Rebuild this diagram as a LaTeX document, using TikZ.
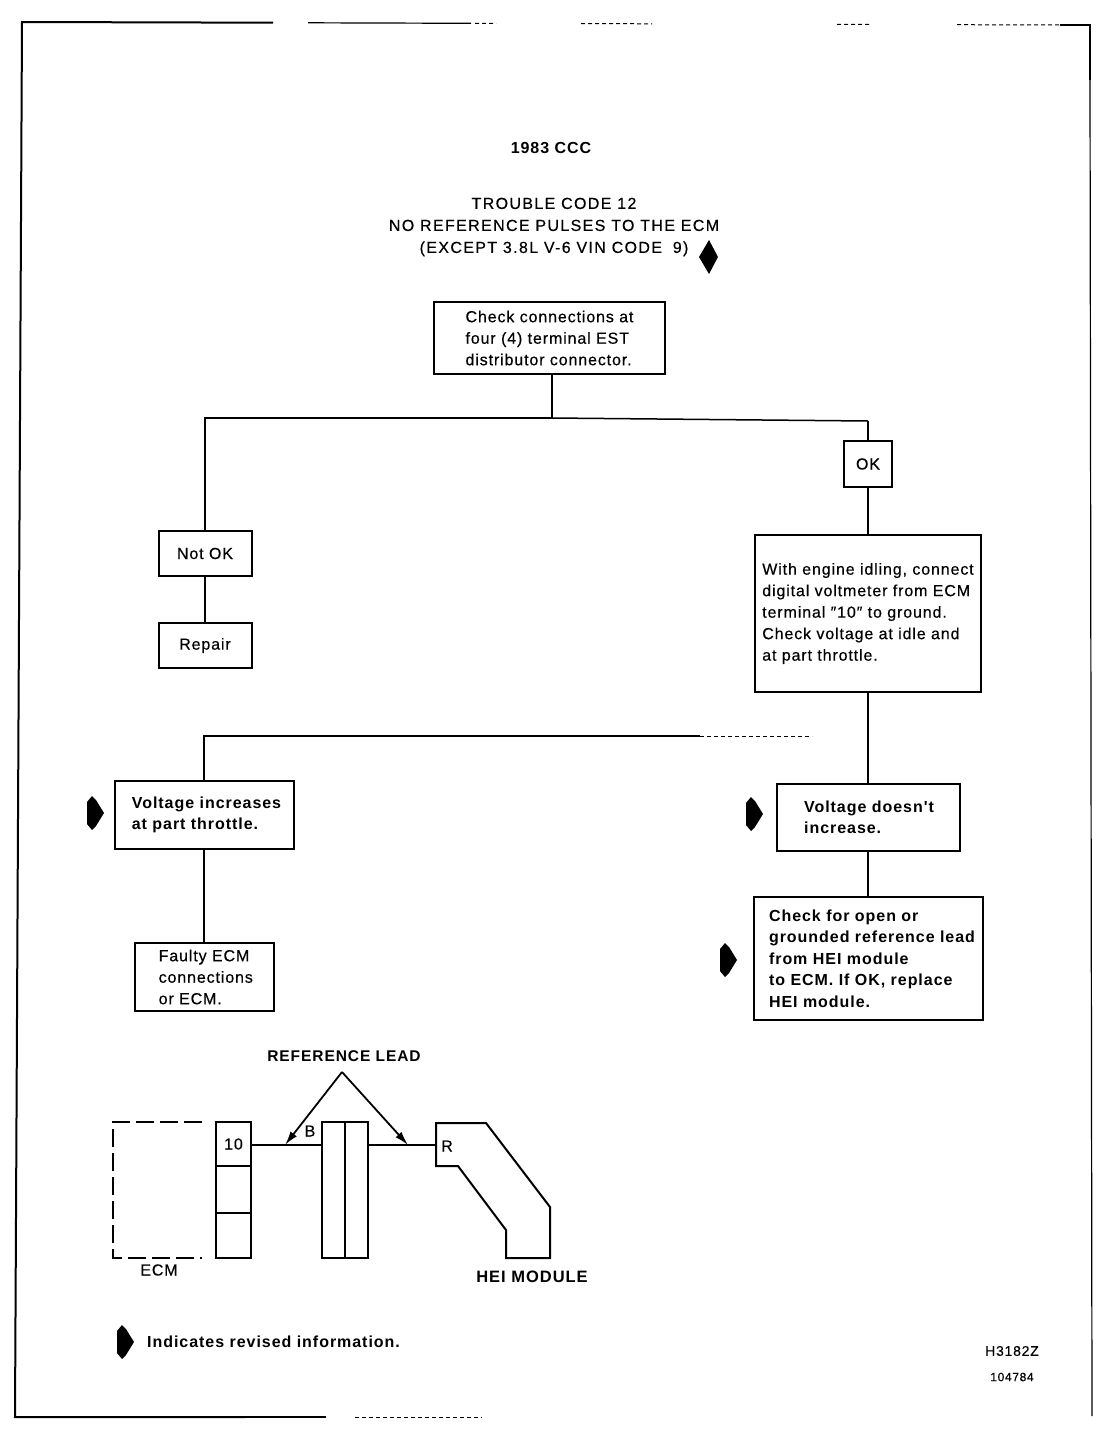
\documentclass[tikz,border=0pt]{standalone}
\usepackage{fontspec}
\setmainfont{Liberation Sans}[LetterSpace=5.5,FakeBold=0.4]
\newfontfamily\boldface{Liberation Sans Bold}[LetterSpace=6.0]
\newfontfamily\titleface{Liberation Sans}[LetterSpace=8.5,FakeBold=0.4]
\usetikzlibrary{arrows.meta, positioning}

\begin{document}
\begin{tikzpicture}[x=1pt,y=-1pt]
 \tikzstyle{flowbox}=[rectangle,draw=black,line width=2pt,outer sep=0pt,
   inner sep=0pt,align=left,font=\fontsize{16}{21.5}\selectfont]
 \tikzstyle{revisedbox}=[flowbox,font=\fontsize{16}{21.5}\selectfont\boldface]
 \tikzstyle{wire}=[line width=2.2pt]
 \tikzstyle{part}=[draw=black,line width=2pt,outer sep=0pt,inner sep=0pt]
 \tikzstyle{plainlabel}=[inner sep=0pt,font=\fontsize{16}{21.5}\selectfont,align=center]
 \tikzstyle{boldlabel}=[inner sep=0pt,font=\fontsize{16}{21.5}\selectfont\boldface]
 \tikzstyle{pointer}=[-{Latex[length=14pt,width=8pt]},line width=1.8pt]
 \tikzstyle{faded}=[line width=1pt,dash pattern=on 4pt off 3pt]
 \tikzset{revmark/.pic={\fill[black] (0,-11) -- (5,-17) -- (9,-13) -- (17,0) -- (9,13) -- (5,17) -- (0,11) -- cycle;}}
 \useasboundingbox (0,0) rectangle (1104,1440);

 % page frame
 \draw[line width=2pt] (273,22.7) -- (22,22) -- (15,1417) -- (245,1417);
 \draw[line width=1.2pt] (245,1417) -- (326,1417);
 \draw[line width=1.2pt] (308,22.8) -- (471,23.3);
 \draw[faded] (355,1417.5) -- (482,1417.5);
 \draw[faded] (475,23.3) -- (496,23.4);
 \draw[faded] (581,23.6) -- (652,23.8);
 \draw[faded] (837,24.3) -- (869,24.4);
 \draw[faded] (957,24.7) -- (1060,25);
 \draw[line width=1.6pt] (1060,25) -- (1090,25) -- (1090,80);
 \draw[line width=1.2pt] (1090,80) -- (1092,1416);

 % headings
 \node (year) [boldlabel] at (551,148) {1983 CCC};
 \node (title) [plainlabel,font=\fontsize{16}{22}\selectfont\titleface] at (554,227)
   {TROUBLE CODE 12\\NO REFERENCE PULSES TO THE ECM\\(EXCEPT 3.8L V-6 VIN CODE\hspace{5pt} 9)};
 \fill[black] (709,240) -- (718,257) -- (709,274) -- (699,257) -- cycle;

 % flow boxes
 \node (check) [flowbox,minimum width=231pt,minimum height=72pt] at (549.5,338)
   {Check connections at\\four (4) terminal EST\\distributor connector.};
 \coordinate (split) at (552,418);
 \node (ok) [flowbox,minimum width=48pt,minimum height=46pt] at (868,464) {OK};
 \node (notok) [flowbox,minimum width=93pt,minimum height=45pt] at (205,553.5) {Not OK};
 \node (repair) [flowbox,below=47pt of notok,minimum width=93pt,minimum height=45pt] {Repair};
 \node (engine) [flowbox,below=48pt of ok,minimum width=226pt,minimum height=157pt]
   {With engine idling, connect\\digital voltmeter from ECM\\terminal ″10″ to ground.\\Check voltage at idle and\\at part throttle.};
 \node (nochange) [revisedbox,below=92pt of engine,minimum width=183pt,minimum height=67pt]
   {Voltage doesn't\kern-2pt\\increase.};
 \node (lead) [revisedbox,below=46pt of nochange,minimum width=229pt,minimum height=123pt]
   {Check for open or\\grounded reference lead\kern-8pt\\from HEI module\\to ECM. If OK, replace\\HEI module.};
 \node (rises) [revisedbox,minimum width=179pt,minimum height=68pt] at (204,815)
   {Voltage increases\kern-5pt\\at part throttle.};
 \node (faulty) [flowbox,below=94pt of rises,minimum width=139pt,minimum height=68pt]
   {Faulty ECM\\connections\kern-5pt\\or ECM.};

 % revised markers
 \pic at (87,813) {revmark};
 \pic at (746,814) {revmark};
 \pic at (720,960) {revmark};
 \pic at (117,1342) {revmark};

 % flow lines
 \coordinate (bend) at (204,736);
 \coordinate (fade) at (700,736);
 \coordinate (fadeend) at (812,736);
 \coordinate (turn) at (868,421);
 \draw[wire] (split |- check.south) -- (split);
 \draw[wire] (split) -- (205,418) -- (notok.north);
 \draw[line width=1.5pt] (split) -- (turn);
 \draw[wire] (turn) -- (ok.north);
 \draw[wire] (ok) -- (engine);
 \draw[wire] (notok) -- (repair);
 \draw[wire] (engine) -- (nochange);
 \draw[wire] (nochange) -- (lead);
 \draw[wire] (rises.north) -- (bend) -- (fade);
 \draw[faded] (fade) -- (fadeend);
 \draw[wire] (rises) -- (faulty);

 % wiring sketch
 \node (reflabel) [boldlabel,font=\fontsize{15.5}{21.5}\selectfont\boldface] at (344,1056) {REFERENCE LEAD};
 \coordinate (apex) at (342,1072);
 \draw[line width=1.8pt,dash pattern=on 18pt off 6pt] (202,1122) -- (113,1122) -- (113,1258) -- (202,1258);
 \node (ecmlabel) [plainlabel] at (159,1270) {ECM};
 \node (pinten) [part,minimum width=35pt,minimum height=44pt,font=\fontsize{16}{18}\selectfont] at (233.5,1144) {10};
 \node (pinmid) [part,below=0pt of pinten,minimum width=35pt,minimum height=47pt] {};
 \node (pinlow) [part,below=0pt of pinmid,minimum width=35pt,minimum height=45pt] {};
 \node (halfa) [part,minimum width=23pt,minimum height=136pt] at (333.5,1190) {};
 \node (halfb) [part,right=0pt of halfa,minimum width=23pt,minimum height=136pt] {};
 \coordinate (tipa) at (285,1145);
 \coordinate (tipb) at (408,1145);
 \draw[wire] (pinten.east |- tipa) -- (halfa.west |- tipa);
 \draw[wire] (halfb.east |- tipb) -- (436,1145);
 \draw[pointer] (apex) -- (tipa);
 \draw[pointer] (apex) -- (tipb);
 \node (pinb) [plainlabel] at (310,1131) {B};
 \draw[line width=2pt] (436,1123) -- (486,1123) -- (550,1207) -- (550,1258) -- (506,1258)
   -- (506,1230) -- (458,1166) -- (436,1166) -- cycle;
 \node (pinr) [plainlabel] at (447,1146) {R};
 \node (hei) [boldlabel,font=\fontsize{16.5}{21.5}\selectfont\boldface] at (532,1277) {HEI MODULE};

 % key and part numbers
 \node (key) [boldlabel,anchor=west] at (147,1342) {Indicates revised information.};
 \node (partno) [plainlabel,font=\fontsize{14}{15}\selectfont] at (1012,1351) {H3182Z};
 \node (stamp) [plainlabel,font=\fontsize{12}{14}\selectfont] at (1012,1377) {104784};
\end{tikzpicture}
\end{document}
